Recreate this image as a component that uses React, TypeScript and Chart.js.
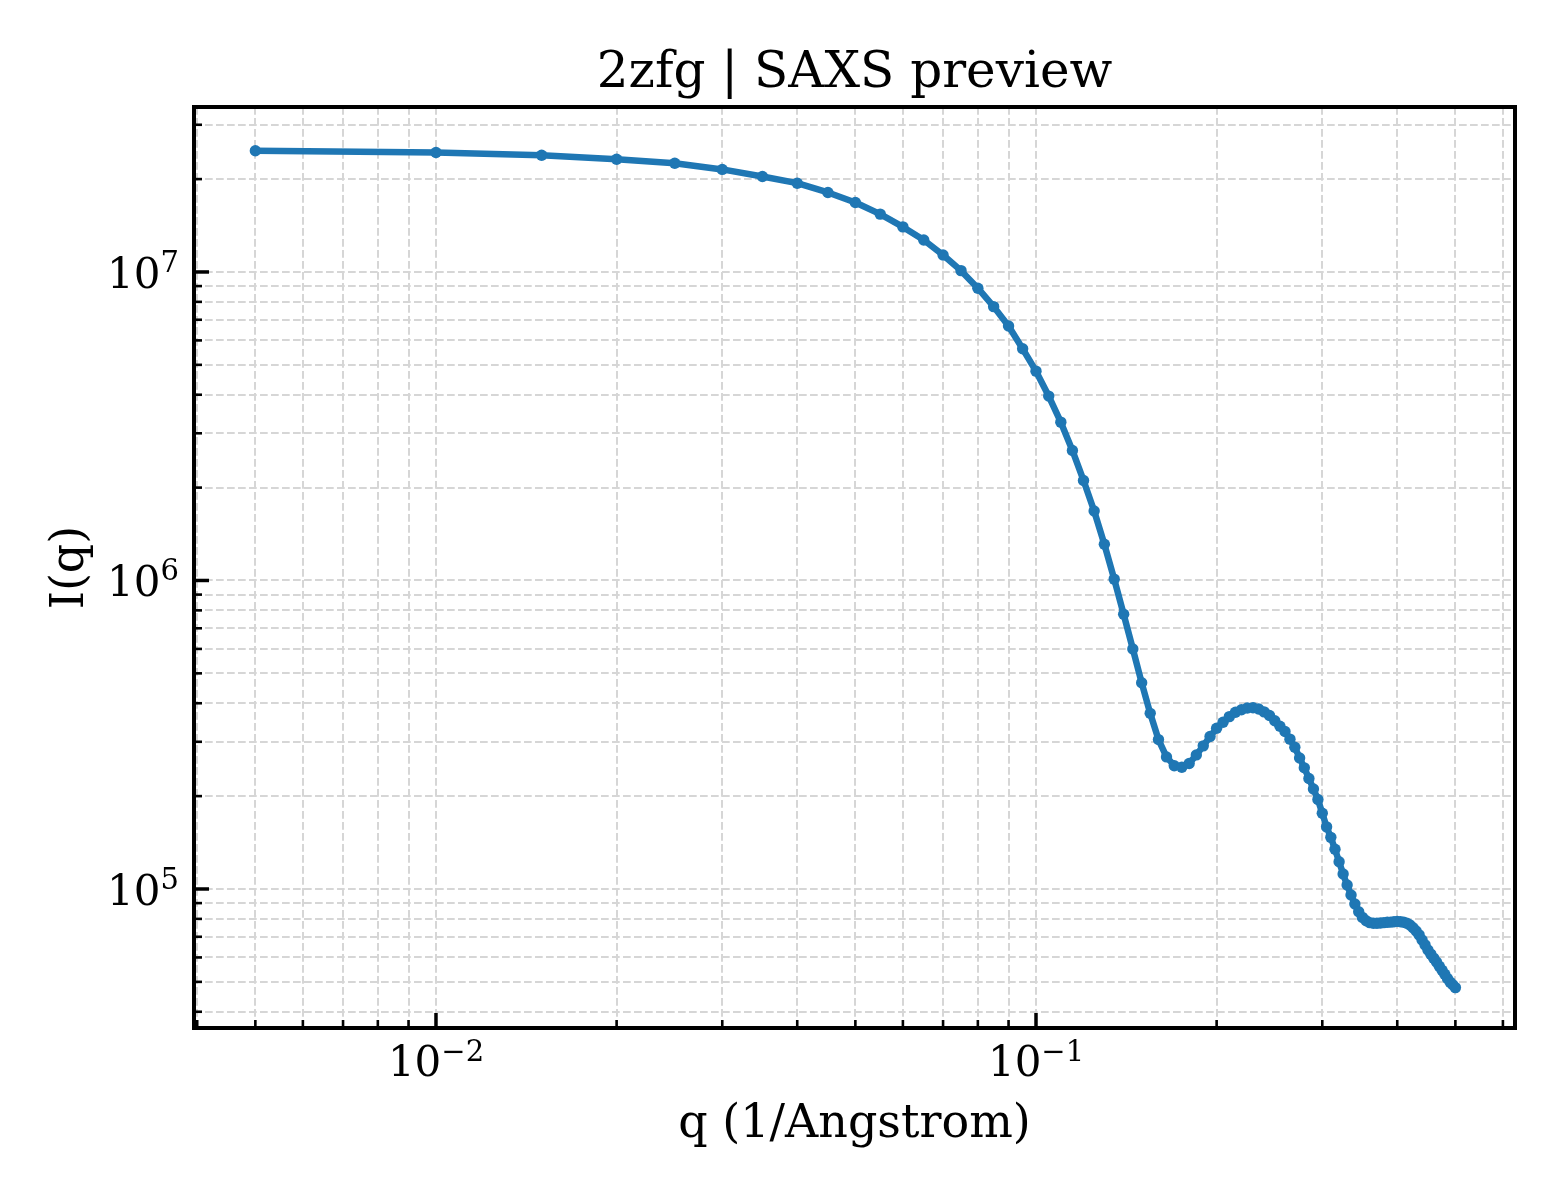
import React, { useEffect, useRef } from "react";
import { Chart, registerables } from "chart.js";

Chart.register(...registerables);

// ---- data ----
const qValues = [
  0.005, 0.01, 0.015, 0.02, 0.025, 0.03, 0.035, 0.04, 0.045, 0.05,
  0.055, 0.06, 0.065, 0.07, 0.075, 0.08, 0.085, 0.09, 0.095, 0.1,
  0.105, 0.11, 0.115, 0.12, 0.125, 0.13, 0.135, 0.14, 0.145, 0.15,
  0.155, 0.16, 0.165, 0.17, 0.175, 0.18, 0.185, 0.19, 0.195, 0.2,
  0.205, 0.21, 0.215, 0.22, 0.225, 0.23, 0.235, 0.24, 0.245, 0.25,
  0.255, 0.26, 0.265, 0.27, 0.275, 0.28, 0.285, 0.29, 0.295, 0.3,
  0.305, 0.31, 0.315, 0.32, 0.325, 0.33, 0.335, 0.34, 0.345, 0.35,
  0.355, 0.36, 0.365, 0.37, 0.375, 0.38, 0.385, 0.39, 0.395, 0.4,
  0.405, 0.41, 0.415, 0.42, 0.425, 0.43, 0.435, 0.44, 0.445, 0.45,
  0.455, 0.46, 0.465, 0.47, 0.475, 0.48, 0.485, 0.49, 0.495, 0.5,
];

const intensity = [
  2.47e7, 2.44e7, 2.39e7, 2.32e7, 2.25e7, 2.15e7, 2.04e7, 1.94e7, 1.81e7, 1.68e7,
  1.54e7, 1.40e7, 1.27e7, 1.135e7, 1.01e7, 8.86e6, 7.72e6, 6.68e6, 5.64e6, 4.77e6,
  3.96e6, 3.26e6, 2.64e6, 2.11e6, 1.68e6, 1.31e6, 1.01e6, 7.77e5, 6.0e5, 4.66e5,
  3.71e5, 3.05e5, 2.68e5, 2.51e5, 2.48e5, 2.55e5, 2.72e5, 2.91e5, 3.12e5, 3.32e5,
  3.47e5, 3.62e5, 3.74e5, 3.81e5, 3.86e5, 3.87e5, 3.83e5, 3.75e5, 3.65e5, 3.51e5,
  3.37e5, 3.24e5, 3.06e5, 2.88e5, 2.66e5, 2.47e5, 2.28e5, 2.11e5, 1.95e5, 1.76e5,
  1.59e5, 1.47e5, 1.345e5, 1.226e5, 1.118e5, 1.03e5, 9.56e4, 8.94e4, 8.44e4, 8.09e4,
  7.89e4, 7.78e4, 7.74e4, 7.74e4, 7.76e4, 7.78e4, 7.80e4, 7.81e4, 7.83e4, 7.85e4,
  7.83e4, 7.80e4, 7.74e4, 7.64e4, 7.49e4, 7.31e4, 7.10e4, 6.83e4, 6.59e4, 6.34e4,
  6.15e4, 5.97e4, 5.80e4, 5.62e4, 5.45e4, 5.29e4, 5.13e4, 4.99e4, 4.89e4, 4.79e4,
];

// ---- axes / ticks ----
const xRange = [0.003951, 0.6285];
const yRange = [3.5434e4, 3.4255e7];

const xGridTicks = [
  0.004, 0.005, 0.006, 0.007, 0.008, 0.009,
  0.01, 0.02, 0.03, 0.04, 0.05, 0.06, 0.07, 0.08, 0.09,
  0.1, 0.2, 0.3, 0.4, 0.5, 0.6,
];
const yGridTicks = [
  4e4, 5e4, 6e4, 7e4, 8e4, 9e4,
  1e5, 2e5, 3e5, 4e5, 5e5, 6e5, 7e5, 8e5, 9e5,
  1e6, 2e6, 3e6, 4e6, 5e6, 6e6, 7e6, 8e6, 9e6,
  1e7, 2e7, 3e7,
];

const xMajorTicks = [0.01, 0.1];
const xTickExponents = ["\u22122", "\u22121"];
const yMajorTicks = [1e5, 1e6, 1e7];
const yTickExponents = ["5", "6", "7"];

const titleText = "2zfg | SAXS preview";
const xLabelText = "q (1/Angstrom)";
const yLabelText = "I(q)";

const FONT = '"DejaVu Serif", serif';
const LINE_COLOR = "#1f77b4";

const isDecade = (v: number) => Math.abs(Math.log10(v) - Math.round(Math.log10(v))) < 1e-9;

const decorPlugin = {
  id: "decor",
  afterDraw(chart: any) {
    const { ctx, chartArea: a, scales } = chart;
    const xs = scales.x;
    const ys = scales.y;
    ctx.save();
    ctx.strokeStyle = "#000";
    ctx.lineCap = "butt";

    // inward ticks, bottom
    for (const v of xGridTicks) {
      const px = xs.getPixelForValue(v);
      const major = isDecade(v);
      ctx.lineWidth = major ? 3.5 : 2.6;
      const len = major ? 15 : 8;
      ctx.beginPath();
      ctx.moveTo(px, a.bottom);
      ctx.lineTo(px, a.bottom - len);
      ctx.stroke();
    }
    // inward ticks, left
    for (const v of yGridTicks) {
      const py = ys.getPixelForValue(v);
      const major = isDecade(v);
      ctx.lineWidth = major ? 3.5 : 2.6;
      const len = major ? 15 : 8;
      ctx.beginPath();
      ctx.moveTo(a.left, py);
      ctx.lineTo(a.left + len, py);
      ctx.stroke();
    }

    // spines
    ctx.lineWidth = 4;
    ctx.lineJoin = "miter";
    ctx.strokeRect(a.left, a.top, a.right - a.left, a.bottom - a.top);

    ctx.fillStyle = "#000";
    const baseFont = `42px ${FONT}`;
    const expFont = `29px ${FONT}`;

    // x tick labels: 10^k centered
    xMajorTicks.forEach((v, i) => {
      const px = xs.getPixelForValue(v);
      ctx.font = baseFont;
      const wb = ctx.measureText("10").width;
      ctx.font = expFont;
      const we = ctx.measureText(xTickExponents[i]).width;
      const total = wb + we;
      const x0 = px - total / 2;
      const baseY = a.bottom + 48;
      ctx.textAlign = "left";
      ctx.textBaseline = "alphabetic";
      ctx.font = baseFont;
      ctx.fillText("10", x0, baseY);
      ctx.font = expFont;
      ctx.fillText(xTickExponents[i], x0 + wb, baseY - 15);
    });

    // y tick labels: right aligned
    yMajorTicks.forEach((v, i) => {
      const py = ys.getPixelForValue(v);
      ctx.font = baseFont;
      const wb = ctx.measureText("10").width;
      ctx.font = expFont;
      const we = ctx.measureText(yTickExponents[i]).width;
      const xRight = a.left - 15;
      const x0 = xRight - we - wb;
      const baseY = py + 16;
      ctx.textAlign = "left";
      ctx.textBaseline = "alphabetic";
      ctx.font = baseFont;
      ctx.fillText("10", x0, baseY);
      ctx.font = expFont;
      ctx.fillText(yTickExponents[i], x0 + wb, baseY - 16);
    });

    const cx = (a.left + a.right) / 2;
    const cy = (a.top + a.bottom) / 2;

    // title
    ctx.font = `50px ${FONT}`;
    ctx.textAlign = "center";
    ctx.textBaseline = "alphabetic";
    ctx.fillText(titleText, cx, 87);

    // x label
    ctx.font = `46px ${FONT}`;
    ctx.fillText(xLabelText, cx, 1137);

    // y label
    ctx.save();
    ctx.translate(83, cy);
    ctx.rotate(-Math.PI / 2);
    ctx.textAlign = "center";
    ctx.fillText(yLabelText, 0, 0);
    ctx.restore();

    ctx.restore();
  },
};

export default function App() {
  const canvasRef = useRef<HTMLCanvasElement | null>(null);

  useEffect(() => {
    const canvas = canvasRef.current;
    if (!canvas) return;
    const points = qValues.map((q, i) => ({ x: q, y: intensity[i] }));
    const gridColor = "#d6d6d6";
    const chart = new Chart(canvas, {
      type: "line",
      data: {
        datasets: [
          {
            data: points,
            borderColor: LINE_COLOR,
            backgroundColor: LINE_COLOR,
            borderWidth: 6.5,
            pointRadius: 5.7,
            pointBorderWidth: 0,
            pointBackgroundColor: LINE_COLOR,
            pointBorderColor: LINE_COLOR,
            borderJoinStyle: "round",
            borderCapStyle: "round",
            tension: 0,
            fill: false,
          },
        ],
      },
      options: {
        animation: false,
        responsive: false,
        devicePixelRatio: 1,
        layout: { padding: { left: 0, top: 107, right: 45, bottom: 0 } },
        plugins: {
          legend: { display: false },
          tooltip: { enabled: false },
          title: { display: false },
        },
        scales: {
          x: {
            type: "logarithmic",
            position: "bottom",
            min: xRange[0],
            max: xRange[1],
            afterBuildTicks: (s: any) => {
              s.ticks = xGridTicks.map((v) => ({ value: v }));
            },
            afterFit: (s: any) => {
              s.height = 172;
            },
            ticks: { display: false },
            grid: { color: gridColor, lineWidth: 2, drawTicks: false, tickLength: 0 },
            border: { display: false, dash: [7.7, 3.3] },
          },
          y: {
            type: "logarithmic",
            position: "left",
            min: yRange[0],
            max: yRange[1],
            afterBuildTicks: (s: any) => {
              s.ticks = yGridTicks.map((v) => ({ value: v }));
            },
            afterFit: (s: any) => {
              s.width = 194;
            },
            ticks: { display: false },
            grid: { color: gridColor, lineWidth: 2, drawTicks: false, tickLength: 0 },
            border: { display: false, dash: [7.7, 3.3] },
          },
        },
      } as any,
      plugins: [decorPlugin],
    });
    return () => chart.destroy();
  }, []);

  return (
    <div style={{ position: "absolute", left: 0, top: 0, width: 1560, height: 1200, background: "#fff" }}>
      <canvas ref={canvasRef} width={1560} height={1200} style={{ width: 1560, height: 1200, display: "block" }} />
    </div>
  );
}
